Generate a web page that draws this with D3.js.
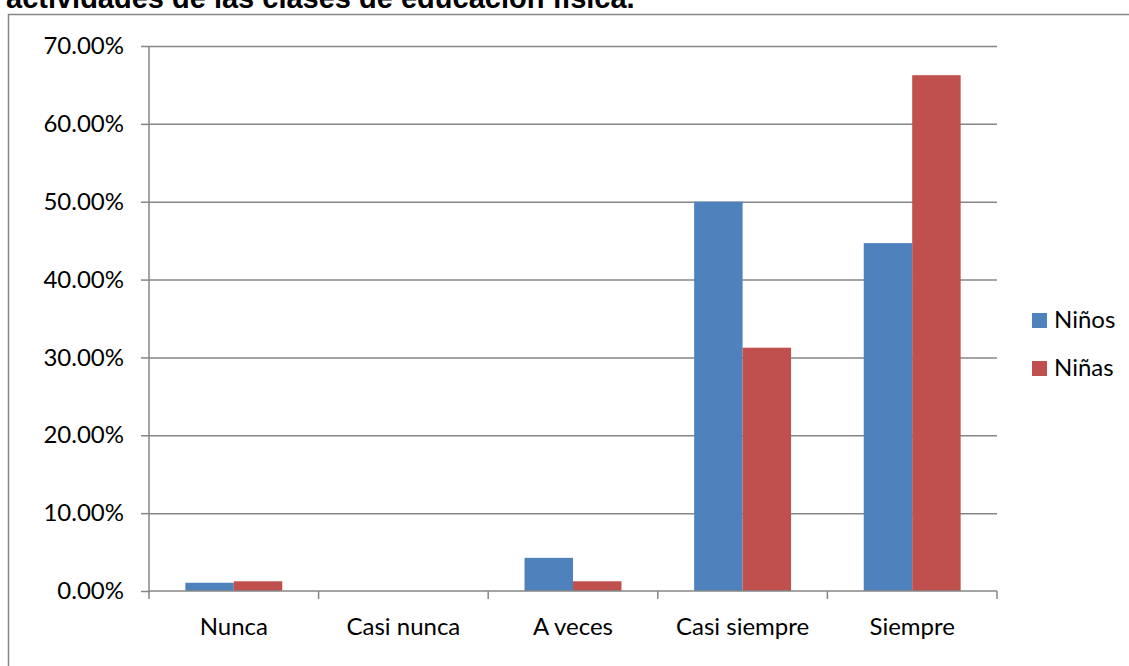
<!DOCTYPE html>
<html lang="es">
<head>
<meta charset="utf-8">
<title>Clases de educación física</title>
<script src="https://cdn.jsdelivr.net/npm/d3@7"></script>
<style>
  html, body { margin: 0; padding: 0; background: #fff; overflow: hidden; }
  .axis-label { font-family: Lato, "Open Sans", sans-serif; font-size: 24px; fill: #000; }
  .title { font-family: "Liberation Sans", Arial, sans-serif; font-weight: bold; font-size: 29px; fill: #000; }
</style>
</head>
<body>
<div id="chart"></div>
<script>
// Valores (porcentaje por respuesta)
const categories = ['Nunca', 'Casi nunca', 'A veces', 'Casi siempre', 'Siempre'];
const seriesNames = ['Niños', 'Niñas'];
const ninos = [1.06, 0, 4.26, 50, 44.68];
const ninas = [1.25, 0, 1.25, 31.25, 66.25];
const yTicks = [0, 10, 20, 30, 40, 50, 60, 70];
const titleText = 'actividades de las clases de educación física.';

const COLOURS = ['#4f81bd', '#c0504d'];
const GRID = '#868686';

const width = 1129;
const height = 666;
const plot = { left: 149, right: 997, top: 46, bottom: 591 };

const svg = d3
  .select('#chart')
  .append('svg')
  .attr('width', width)
  .attr('height', height);

// título cortado arriba y marco del gráfico
svg.append('text').attr('class', 'title').attr('x', 6).attr('y', 8).text(titleText);

svg
  .append('rect')
  .attr('x', 8.5)
  .attr('y', 14.5)
  .attr('width', width + 20)
  .attr('height', height + 20)
  .attr('fill', 'none')
  .attr('stroke', GRID)
  .attr('stroke-width', 1.5);

const x0 = d3.scaleBand().domain(categories).range([plot.left, plot.right]);
const x1 = d3.scaleBand().domain(seriesNames).range([0, x0.bandwidth()]).paddingOuter(0.75);
const y = d3.scaleLinear().domain([0, 70]).range([plot.bottom, plot.top]);

// líneas de cuadrícula
svg
  .append('g')
  .attr('transform', `translate(${plot.left},0)`)
  .call(d3.axisLeft(y).tickValues(yTicks.slice(1)).tickSize(-(plot.right - plot.left)).tickFormat(''))
  .call((g) => g.select('.domain').remove())
  .selectAll('line')
  .attr('stroke', GRID)
  .attr('stroke-width', 1.5);

// barras
const rows = categories.map((c, i) => ({ category: c, values: [ninos[i], ninas[i]] }));

svg
  .append('g')
  .selectAll('g')
  .data(rows)
  .join('g')
  .attr('transform', (d) => `translate(${x0(d.category)},0)`)
  .selectAll('rect')
  .data((d) => d.values.map((v, i) => ({ name: seriesNames[i], value: v, index: i })))
  .join('rect')
  .attr('x', (d) => x1(d.name))
  .attr('y', (d) => y(d.value))
  .attr('width', x1.bandwidth())
  .attr('height', (d) => y(0) - y(d.value))
  .attr('fill', (d) => COLOURS[d.index]);

// eje Y
svg
  .append('g')
  .attr('transform', `translate(${plot.left},0)`)
  .call(
    d3
      .axisLeft(y)
      .tickValues(yTicks)
      .tickSize(8)
      .tickPadding(17)
      .tickFormat((d) => `${d3.format('.2f')(d)}%`)
  )
  .call((g) => g.select('.domain').attr('stroke', GRID).attr('stroke-width', 1.5).attr('d', `M0,${plot.top}V${plot.bottom}`))
  .call((g) => g.selectAll('line').attr('stroke', GRID).attr('stroke-width', 1.5))
  .call((g) => g.selectAll('text').attr('class', 'axis-label').attr('font-family', null).attr('font-size', null));

// eje X con marcas entre categorías
const xAxis = svg.append('g').attr('transform', `translate(0,${plot.bottom})`);

xAxis
  .append('line')
  .attr('x1', plot.left)
  .attr('x2', plot.right)
  .attr('stroke', GRID)
  .attr('stroke-width', 1.5);

xAxis
  .selectAll('line.tick')
  .data(categories.map((c) => x0(c)).concat([plot.right]))
  .join('line')
  .attr('class', 'tick')
  .attr('x1', (d) => d)
  .attr('x2', (d) => d)
  .attr('y1', 0)
  .attr('y2', 8)
  .attr('stroke', GRID)
  .attr('stroke-width', 1.5);

xAxis
  .selectAll('text')
  .data(categories)
  .join('text')
  .attr('class', 'axis-label')
  .attr('x', (d) => x0(d) + x0.bandwidth() / 2)
  .attr('y', 44)
  .attr('text-anchor', 'middle')
  .text((d) => d);

// leyenda
const legend = svg
  .append('g')
  .selectAll('g')
  .data(seriesNames)
  .join('g')
  .attr('transform', (d, i) => `translate(1032,${313 + i * 48})`);

legend.append('rect').attr('width', 15).attr('height', 15).attr('fill', (d, i) => COLOURS[i]);

legend
  .append('text')
  .attr('class', 'axis-label')
  .attr('x', 22)
  .attr('y', 15)
  .text((d) => d);
</script>
</body>
</html>
